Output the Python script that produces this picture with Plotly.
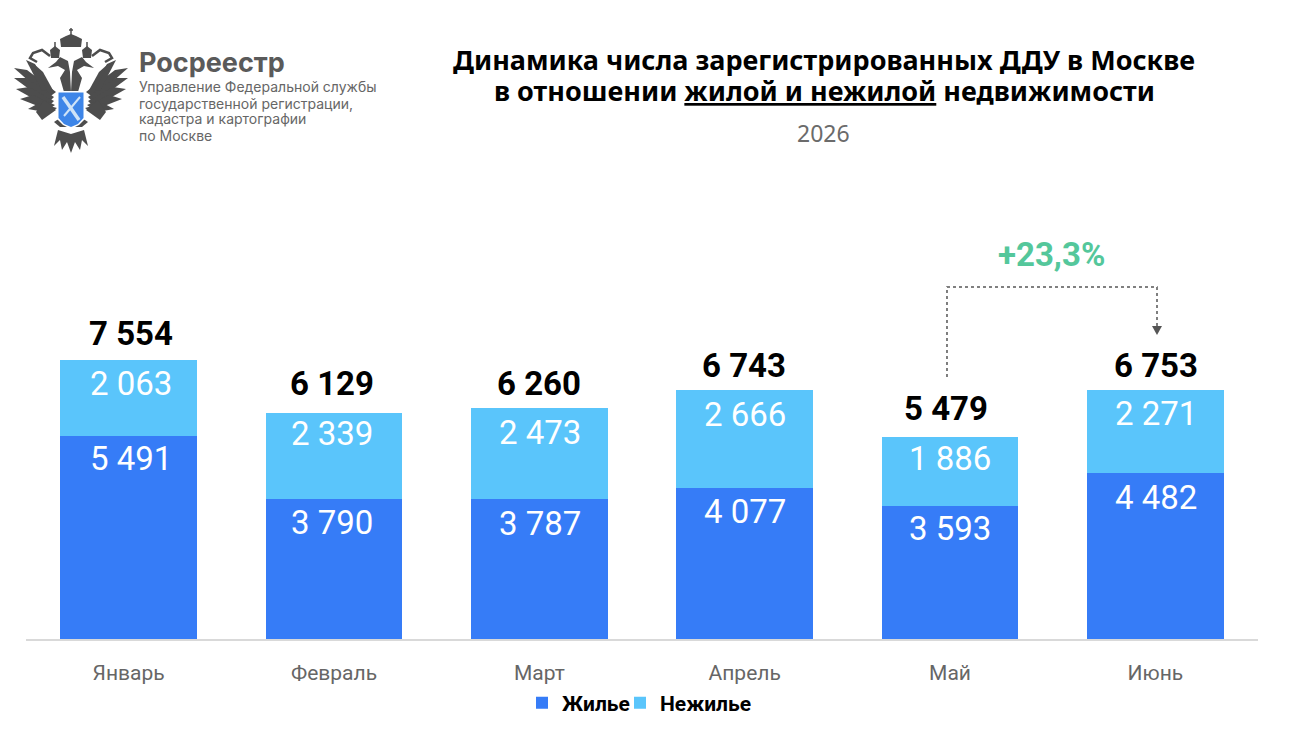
import plotly.graph_objects as go

W, H = 1316, 742
LEFT, RIGHT, TOP, BOTTOM = 26, 1258, 180, 639

months = ['Январь', 'Февраль', 'Март', 'Апрель', 'Май', 'Июнь']
housing = [5491, 3790, 3787, 4077, 3593, 4482]
nonhousing = [2063, 2339, 2473, 2666, 1886, 2271]
totals = [7554, 6129, 6260, 6743, 5479, 6753]
legend_names = ['Жилье', 'Нежилье']


def fmt(v):
    return f'{v:,}'.replace(',', '\u00a0')


# pixel position on the page -> paper coordinates (margins are zero, the axes sit in a domain)
def px(x):
    return x / W


def py(y):
    return 1 - y / H


def path(points, close=True):
    s = 'M ' + ' L '.join(f'{px(x):.5f},{py(y):.5f}' for x, y in points)
    return s + (' Z' if close else '')


def mirror(points):
    return [(2 * 71 - x, y) for x, y in points]


fig = go.Figure()
fig.add_bar(x=months, y=housing, name=legend_names[0], marker_color='#367cf7', width=0.667, marker_line_width=0,
            legend='legend', showlegend=True)
fig.add_bar(x=months, y=nonhousing, name=legend_names[1], marker_color='#5ac5fb', width=0.667, marker_line_width=0,
            legend='legend2', showlegend=True)

notes = []
shapes = []


def text(x, y, s, size, color='#000000', family='Roboto', anchor='center'):
    notes.append(dict(x=px(x), y=py(y), xref='paper', yref='paper', text=s, showarrow=False,
                      xanchor=anchor, yanchor='middle', font=dict(size=size, color=color, family=family)))


def poly(points, fill):
    shapes.append(dict(type='path', xref='paper', yref='paper', path=path(points), fillcolor=fill, line_width=0))


def stroke(points, color, width, dash='solid'):
    shapes.append(dict(type='path', xref='paper', yref='paper', path=path(points, False),
                       line=dict(color=color, width=width, dash=dash)))


# value labels, the nudges follow the hand placement in the original slide
inner_dx = [2, -2, 1, 0, 0, 1]
lower_dy = [-22, -23, -24, -23, -22, -24]
upper_dy = [-23, -21, -25, -25, -22, -24]
for i, (m, a, b) in enumerate(zip(months, housing, nonhousing)):
    notes.append(dict(x=m, y=a, yref='y', text=fmt(a), showarrow=False, xshift=inner_dx[i], yshift=lower_dy[i],
                      font=dict(size=33, color='white', family='Roboto')))
    notes.append(dict(x=m, y=a + b, yref='y', text=fmt(b), showarrow=False, xshift=inner_dx[i], yshift=upper_dy[i],
                      font=dict(size=33, color='white', family='Roboto')))

total_dx = [2, -2, 0, -1, -4, 1]
total_dy = [27, 29, 24, 24, 28, 24]
for i, (m, t) in enumerate(zip(months, totals)):
    notes.append(dict(x=m, y=t, yref='y', text=f'<b>{fmt(t)}</b>', showarrow=False,
                      xshift=total_dx[i], yshift=total_dy[i],
                      font=dict(size=33, color='#000000', family='Roboto')))

# titles
text(824, 59, '<b>Динамика числа зарегистрированных ДДУ в Москве</b>', 27, family='Noto Sans')
text(824, 90, '<b>в отношении <u>жилой и нежилой</u> недвижимости</b>', 27, family='Noto Sans')
text(823, 133, '2026', 23, color='#6b6b6b', family='Noto Sans')

# logo text
text(137, 62, '<b>Росреестр</b>', 27, color='#5a5a5a', family='Inter', anchor='left')
for i, line in enumerate(['Управление Федеральной службы', 'государственной регистрации,',
                          'кадастра и картографии', 'по Москве']):
    text(137, 87 + 16 * i, line, 14, color='#666666', family='Inter', anchor='left')

# logo eagle, drawn by hand: one wing of feathers, mirrored
grey = '#4d4d4d'
feathers = [
    [(48, 98), (14, 68), (27, 70), (56, 92)],
    [(48, 103), (14, 78), (26, 78), (54, 97)],
    [(48, 107), (16, 89), (29, 87), (54, 101)],
    [(48, 110), (20, 99), (33, 95), (55, 105)],
    [(50, 113), (28, 109), (39, 103), (57, 108)],
    [(42, 91), (26, 60), (35, 64), (49, 90)],
    [(48, 92), (34, 64), (43, 72), (54, 92)],
    [(44, 100), (36, 112), (42, 120), (56, 110)],
]
for f in feathers:
    poly(f, grey)
    poly(mirror(f), grey)
# ribbons from the small crowns
ribbon = [(50, 56), (42, 50), (33, 53), (30, 58), (37, 62)]
stroke(ribbon, grey, 2.5)
stroke(mirror(ribbon), grey, 2.5)
# heads and necks
head = [(64, 92), (60, 78), (65, 70), (58, 66), (48, 68), (56, 62), (60, 57), (68, 61), (70, 72), (71, 92)]
poly(head, grey)
poly(mirror(head), grey)
# crowns and crosses
crown = [(61, 47), (60, 39), (66, 36), (71, 34), (76, 36), (82, 39), (81, 47)]
poly(crown, grey)
stroke([(71, 28), (71, 35)], grey, 1.5)
stroke([(69, 30), (73, 30)], grey, 1.5)
small_crown = [(51, 58), (50, 50), (55, 46), (60, 50), (59, 58)]
poly(small_crown, grey)
poly(mirror(small_crown), grey)
stroke([(55, 42), (55, 47)], grey, 1.5)
stroke([(87, 42), (87, 47)], grey, 1.5)
# tail and legs
tail = [(58, 130), (54, 146), (60, 140), (62, 150), (67, 142), (71, 153), (75, 142), (80, 150), (82, 140),
        (88, 146), (84, 130), (71, 134)]
poly(tail, grey)
poly([(54, 122), (60, 118), (82, 118), (88, 122), (82, 127), (60, 127)], grey)
# shield with the crossed bars
poly([(57, 91), (85, 91), (85, 119), (79, 125), (71, 129), (63, 125), (57, 119)], '#ffffff')
poly([(58.5, 92.5), (83.5, 92.5), (83.5, 118), (78, 124), (71, 127), (64, 124), (58.5, 118)], '#3d85e8')
stroke([(63, 97), (79, 120)], '#cfe3f7', 3.5)
stroke([(80, 97), (64, 116)], '#cfe3f7', 2)

# growth bracket
stroke([(947, 377), (947, 287), (1157, 287), (1157, 326)], '#555555', 1.5, 'dot')
poly([(1152, 326), (1162, 326), (1157, 335)], '#555555')
text(1051, 255, '<b>+23,3%</b>', 33, color='#54c79b')

legend_font = dict(size=21, color='#000000', family='Roboto', weight='bold')
fig.update_layout(
    width=W, height=H,
    barmode='stack',
    bargap=0.333,
    margin=dict(l=0, r=0, t=0, b=0, pad=0),
    paper_bgcolor='white',
    plot_bgcolor='white',
    font=dict(family='Roboto'),
    annotations=notes,
    shapes=shapes,
    # two legends so the gap between the entries can be set
    legend=dict(x=px(522), xanchor='left', y=py(703), yanchor='middle', font=legend_font,
                bgcolor='rgba(0,0,0,0)', itemclick=False),
    legend2=dict(x=px(620), xanchor='left', y=py(703), yanchor='middle', font=legend_font,
                 bgcolor='rgba(0,0,0,0)', itemclick=False),
    xaxis=dict(domain=[px(LEFT), px(RIGHT)], showgrid=False, showline=True, linecolor='#d9d9d9', linewidth=1.5,
               ticks='', tickfont=dict(size=21, color='#666666', family='Roboto'), ticklabelstandoff=14),
    yaxis=dict(domain=[py(BOTTOM), py(TOP)], visible=False, range=[0, (BOTTOM - TOP) / 0.03693]),
)

fig.write_html('out.html', config={'displayModeBar': False}, post_script="document.body.style.margin='0';")
